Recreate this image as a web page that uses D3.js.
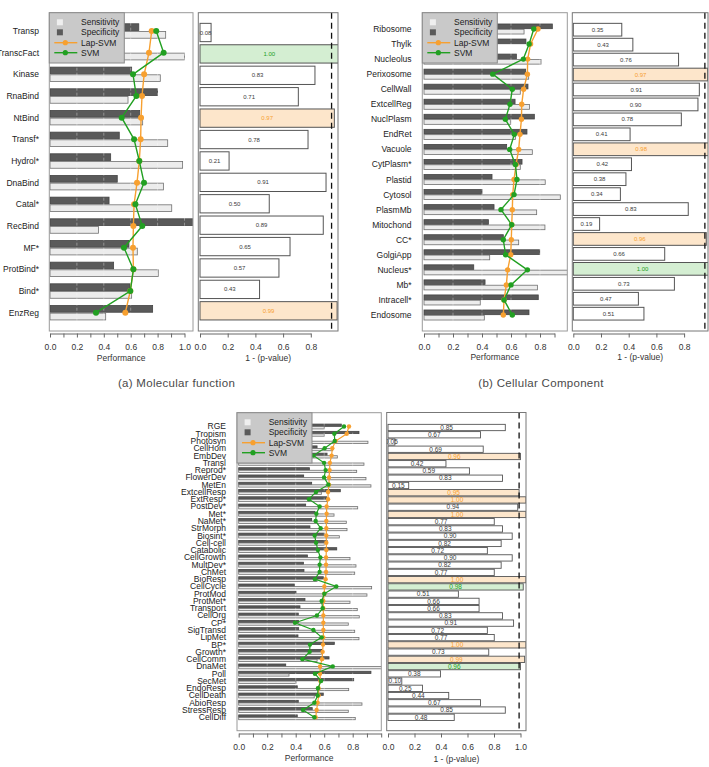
<!DOCTYPE html>
<html><head><meta charset="utf-8">
<script src="https://cdn.jsdelivr.net/npm/d3@7"></script>
<style>body{margin:0;background:#fff} svg{display:block} text{font-family:"Liberation Sans",Arial,sans-serif}</style>
</head><body><svg id="c" width="709" height="767"></svg>
<script>
// ---------- DATA ----------
const catsA = ["Transp","TranscFact","Kinase","RnaBind","NtBind","Transf*","Hydrol*","DnaBind","Catal*","RecBind","MF*","ProtBind*","Bind*","EnzReg"];
const sensA = [0.86,1.00,0.82,0.58,0.689,0.875,0.986,0.843,0.905,0.36,0.649,0.805,0.607,0.414];
const specA = [0.66,0.50,0.607,0.80,0.667,0.515,0.451,0.50,0.439,1.08,0.587,0.473,0.595,0.763];
const lapA  = [0.756,0.736,0.70,0.684,0.677,0.674,0.664,0.647,0.625,0.62,0.617,0.62,0.597,0.56];
const svmA  = [0.79,0.845,0.617,0.642,0.533,0.625,0.664,0.699,0.635,0.686,0.55,0.62,0.597,0.342];
const pvalA = [0.08,1.00,0.83,0.71,0.97,0.78,0.21,0.91,0.50,0.89,0.65,0.57,0.43,0.99];

const catsB = ["Ribosome","Thylk","Nucleolus","Perixosome","CellWall","ExtcellReg","NuclPlasm","EndRet","Vacuole","CytPlasm*","Plastid","Cytosol","PlasmMb","Mitochond","CC*","GolgiApp","Nucleus*","Mb*","Intracell*","Endosome"];
const sensB = [0.69,0.45,0.807,0.722,0.664,0.727,0.598,0.63,0.747,0.664,0.836,0.94,0.777,0.834,0.653,0.453,1.0,0.782,0.388,0.416];
const specB = [0.885,0.703,0.637,0.701,0.717,0.628,0.761,0.71,0.57,0.676,0.469,0.40,0.483,0.444,0.547,0.798,0.343,0.421,0.788,0.724];
const lapB  = [0.786,0.735,0.715,0.713,0.687,0.674,0.672,0.662,0.653,0.635,0.621,0.612,0.609,0.605,0.602,0.598,0.577,0.568,0.552,0.547];
const svmB  = [0.757,0.725,0.685,0.474,0.609,0.593,0.561,0.623,0.591,0.63,0.641,0.621,0.531,0.605,0.547,0.563,0.713,0.60,0.552,0.609];
const pvalB = [0.35,0.43,0.76,0.97,0.91,0.90,0.78,0.41,0.98,0.42,0.38,0.34,0.83,0.19,0.96,0.66,1.00,0.73,0.47,0.51];

const catsC = ["RGE","Tropism","Photosyn","CellHom","EmbDev","Transl","Reprod*","FlowerDev","MetEn","ExtcellResp","ExtResp*","PostDev*","Met*","NaMet*","StrMorph","Biosint*","Cell-cell","Catabolic","CellGrowth","MultDev*","ChMet","BioResp","CellCycle","ProtMod","ProtMet*","Transport","CellOrg","CP*","SigTransd","LipMet","BP*","Growth*","CellComm","DnaMet","Poll","SecMet","EndoResp","CellDeath","AbioResp","StressResp","CellDiff"];
const sensC = [0.60,0.60,0.907,0.66,0.692,0.879,0.828,0.893,0.928,0.58,0.62,0.835,0.669,0.755,0.76,0.706,0.60,0.56,0.781,0.823,0.814,0.55,0.933,0.90,0.781,0.832,0.846,0.769,0.814,0.844,0.50,0.58,0.55,1.05,0.353,0.402,0.772,0.53,0.865,0.769,0.818];
const specC = [0.72,0.844,0.45,0.55,0.62,0.45,0.496,0.456,0.512,0.713,0.617,0.47,0.535,0.512,0.50,0.60,0.62,0.688,0.482,0.454,0.458,0.594,0.39,0.402,0.465,0.43,0.418,0.42,0.421,0.416,0.671,0.582,0.634,0.33,0.928,0.807,0.411,0.594,0.418,0.516,0.411];
const lapC  = [0.774,0.758,0.68,0.657,0.652,0.64,0.638,0.634,0.634,0.627,0.627,0.617,0.617,0.615,0.615,0.615,0.615,0.615,0.613,0.613,0.613,0.61,0.601,0.601,0.594,0.594,0.594,0.594,0.594,0.594,0.592,0.589,0.585,0.571,0.571,0.573,0.561,0.561,0.554,0.547,0.54];
const svmC  = [0.739,0.671,0.674,0.603,0.524,0.599,0.61,0.599,0.629,0.543,0.493,0.568,0.545,0.54,0.575,0.533,0.543,0.556,0.573,0.568,0.568,0.535,0.685,0.601,0.582,0.589,0.549,0.395,0.524,0.582,0.50,0.498,0.447,0.66,0.535,0.578,0.556,0.554,0.531,0.451,0.531];
const pvalC = [0.85,0.67,0.05,0.69,0.96,0.42,0.59,0.83,0.15,0.95,1.00,0.94,1.00,0.77,0.83,0.90,0.82,0.72,0.90,0.82,0.77,1.00,0.98,0.51,0.66,0.66,0.83,0.91,0.72,0.77,1.00,0.73,0.99,0.96,0.38,0.10,0.25,0.44,0.67,0.85,0.48];

const legendLabels = ["Sensitivity","Specificity","Lap-SVM","SVM"];
const threshold = 0.95;

// ---------- DRAWING ----------
const svg = d3.select("#c");
const ORANGE = "#f7a030", GREEN = "#22a022";
const FONT = "'Liberation Sans', Arial, sans-serif";
let clipN = 0;
function clip(x0,y0,x1,y1){
  const id = "clip"+(clipN++);
  svg.append("clipPath").attr("id",id).append("rect")
    .attr("x",x0).attr("y",y0).attr("width",x1-x0).attr("height",y1-y0);
  return `url(#${id})`;
}
function bandFromCenters(cats, c0, c1){
  const step = (c1-c0)/(cats.length-1);
  return d3.scaleBand().domain(cats).range([c0-step/2, c1+step/2]);
}
function drawAxis(zero, unit, tmax, tstep, axisY, labelFn){
  const s = d3.scaleLinear().domain([0,tmax]).range([zero, zero+unit*tmax]);
  const ticks = d3.range(0, tmax+1e-9, tstep);
  const ax = svg.append("g").attr("transform",`translate(0,${axisY})`)
    .call(d3.axisBottom(s).tickValues(ticks).tickSize(4).tickSizeOuter(0).tickFormat(labelFn));
  ax.select(".domain").attr("stroke","#666");
  ax.selectAll(".tick line").attr("stroke","#666");
  ax.selectAll(".tick text").attr("font-size",8.5).attr("fill","#333").attr("font-family",FONT).attr("y",10);
}

function leftPanel(g, d){
  const x = d3.scaleLinear().domain([0,1]).range([g.zero, g.zero+g.unit]);
  const y = bandFromCenters(d.cats, g.c0, g.c1);
  const bw = y.bandwidth();
  const inner = d3.scaleBand().domain(["spec","sens"]).range([-bw/3, bw/3]).paddingInner(0.12);
  const cy = c => y(c) + bw/2;
  const layer = svg.append("g").attr("clip-path", clip(g.x0,g.y0,g.x1,g.y1));
  [["spec", d.spec, "#5a5a5a", "#444"], ["sens", d.sens, "#ececec", "#6f6f6f"]].forEach(([k, vals, fill, stroke]) => {
    layer.selectAll(null).data(d.cats).join("rect")
      .attr("x", x(0)).attr("y", c => cy(c) + inner(k))
      .attr("width", (c,i) => x(vals[i]) - x(0)).attr("height", inner.bandwidth())
      .attr("fill", fill).attr("stroke", stroke).attr("stroke-width", 0.8);
  });
  layer.selectAll(null).data(d3.range(0.2, 1.01, 0.2)).join("line")
    .attr("x1", v=>x(v)).attr("x2", v=>x(v)).attr("y1", g.y0).attr("y2", g.y1)
    .attr("stroke","rgba(255,255,255,0.35)").attr("stroke-dasharray","3,2").attr("stroke-width",1);
  [[d.lap, ORANGE], [d.svm, GREEN]].forEach(([vals, col]) => {
    const line = d3.line().x(v => x(v)).y((v,i) => cy(d.cats[i]));
    layer.append("path").attr("d", line(vals)).attr("fill","none").attr("stroke",col).attr("stroke-width",g.lw);
    layer.selectAll(null).data(vals).join("circle")
      .attr("cx", v => x(v)).attr("cy", (v,i) => cy(d.cats[i])).attr("r", g.r).attr("fill", col);
  });
  svg.append("rect").attr("x",g.x0).attr("y",g.y0).attr("width",g.x1-g.x0).attr("height",g.y1-g.y0)
    .attr("fill","none").attr("stroke","#9a9a9a").attr("stroke-width",1);
  svg.append("g").selectAll("text").data(d.cats).join("text")
    .attr("x", g.labelX).attr("y", c => cy(c)).attr("dy","0.35em").attr("text-anchor","end")
    .attr("font-size", g.fs).attr("fill","#222").text(c => c);
  drawAxis(g.zero, g.unit, g.tmax, 0.1, g.axisY,
    v => (Math.round(v*10)%2===0 && v <= g.labelMax + 1e-9) ? v.toFixed(1) : "");
  svg.append("text").attr("x",(g.x0+g.x1)/2).attr("y",g.titleY).attr("text-anchor","middle")
    .attr("font-size",8.5).attr("fill","#333").text("Performance");
  const L = svg.append("g").attr("transform",`translate(${g.x0},${g.y0})`);
  L.append("rect").attr("width",75).attr("height",50.3).attr("fill","#c9c9c9").attr("stroke","#8a8a8a").attr("stroke-width",1);
  const rows = [9.6, 19.6, 30, 40];
  L.append("rect").attr("x",7.6).attr("y",rows[0]-3).attr("width",6).attr("height",6).attr("fill","#efefef");
  L.append("rect").attr("x",7.6).attr("y",rows[1]-3).attr("width",6).attr("height",6).attr("fill","#5a5a5a");
  [[rows[2],ORANGE],[rows[3],GREEN]].forEach(([yy,col]) => {
    L.append("line").attr("x1",5).attr("x2",28).attr("y1",yy).attr("y2",yy).attr("stroke",col).attr("stroke-width",1.4);
    L.append("circle").attr("cx",16).attr("cy",yy).attr("r",2.6).attr("fill",col);
  });
  L.selectAll("text.lg").data(legendLabels).join("text").attr("class","lg")
    .attr("x",31.7).attr("y",(t,i)=>rows[i]).attr("dy","0.35em")
    .attr("font-size",8.5).attr("fill","#222").text(t=>t);
}

function rightPanel(g, d){
  const x = d3.scaleLinear().domain([0,1]).range([g.zero, g.zero+g.unit]);
  const y = bandFromCenters(d.cats, g.c0, g.c1);
  const bw = y.bandwidth();
  const bh = bw*g.frac;
  const cy = c => y(c) + bw/2;
  const sig = d.cats.map((c,i) => d.pval[i] >= threshold ? (d.lap[i] >= d.svm[i] ? "lap" : "svm") : "");
  const fillOf = s => s==="lap" ? "#fde6cb" : s==="svm" ? "#d4eed2" : "#ffffff";
  const textOf = s => s==="lap" ? ORANGE : s==="svm" ? GREEN : "#3a3a3a";
  const layer = svg.append("g").attr("clip-path", clip(g.x0,g.y0,g.x1,g.y1));
  layer.selectAll(null).data(d.cats).join("rect")
    .attr("x", x(0)).attr("y", c => cy(c)-bh/2).attr("width",(c,i)=>x(d.pval[i])-x(0)).attr("height",bh)
    .attr("fill",(c,i)=>fillOf(sig[i])).attr("stroke","#555").attr("stroke-width",g.sw);
  layer.selectAll(null).data(d.cats).join("text")
    .attr("x",(c,i)=>(x(0)+x(d.pval[i]))/2).attr("y",c=>cy(c)).attr("dy","0.35em").attr("text-anchor","middle")
    .attr("font-size",g.fs).attr("fill",(c,i)=>textOf(sig[i])).text((c,i)=>d.pval[i].toFixed(2));
  svg.append("line").attr("x1",x(threshold)).attr("x2",x(threshold)).attr("y1",g.y0).attr("y2",g.y1)
    .attr("stroke","#111").attr("stroke-width",1.3).attr("stroke-dasharray","6,4");
  svg.append("rect").attr("x",g.x0).attr("y",g.y0).attr("width",g.x1-g.x0).attr("height",g.y1-g.y0)
    .attr("fill","none").attr("stroke","#777").attr("stroke-width",1);
  drawAxis(g.zero, g.axUnit || g.unit, g.tmax, 0.2, g.axisY, v => v.toFixed(1));
  svg.append("text").attr("x",(g.x0+g.x1)/2).attr("y",g.titleY).attr("text-anchor","middle")
    .attr("font-size",8.5).attr("fill","#333").text("1 - (p-value)");
}

const dA = {cats:catsA, sens:sensA, spec:specA, lap:lapA, svm:svmA, pval:pvalA};
const dB = {cats:catsB, sens:sensB, spec:specB, lap:lapB, svm:svmB, pval:pvalB};
const dC = {cats:catsC, sens:sensC, spec:specC, lap:lapC, svm:svmC, pval:pvalC};

leftPanel({x0:49.3,x1:193,y0:12.7,y1:331,zero:50,unit:134.5,c0:31,c1:312.7,labelX:39,fs:8.5,r:3,lw:1.4,tmax:1.0,labelMax:1.0,axisY:333.5,titleY:360.5}, dA);
rightPanel({x0:198.3,x1:338,y0:12.7,y1:331,zero:200,unit:138.5,c0:32.5,c1:310.8,frac:0.855,fs:6,sw:1,tmax:0.8,axisY:333.5,titleY:360.5}, dA);
leftPanel({x0:422.3,x1:567.3,y0:12.7,y1:331,zero:424,unit:145,c0:29,c1:315,labelX:411.5,fs:8.5,r:2.7,lw:1.4,tmax:0.9,labelMax:0.8,axisY:333.5,titleY:360}, dB);
rightPanel({x0:572.3,x1:708,y0:12.7,y1:331,zero:573.3,unit:138.5,c0:29.7,c1:313.7,frac:0.85,fs:6,sw:1,tmax:0.8,axisY:333.5,titleY:360}, dB);
leftPanel({x0:237,x1:381.3,y0:412.7,y1:730.7,zero:238.7,unit:142.5,c0:426.5,c1:717.3,labelX:226,fs:8.5,r:2.2,lw:1.2,tmax:1.0,labelMax:0.8,axisY:733.5,titleY:761}, dC);
rightPanel({x0:386.7,x1:526,y0:412.5,y1:730.7,zero:388,unit:138,axUnit:132.5,c0:427.5,c1:717.3,frac:0.87,fs:6.5,sw:0.9,tmax:1.0,axisY:733.5,titleY:761.5}, dC);

[["(a) Molecular function",176.5],["(b) Cellular Component",541]].forEach(([t,cx]) => {
  svg.append("text").attr("x",cx).attr("y",387).attr("text-anchor","middle")
    .attr("font-family","'Open Sans', sans-serif").attr("font-size",11.5).attr("letter-spacing",0.3)
    .attr("fill","#4a4a4a").text(t);
});
</script></body></html>
